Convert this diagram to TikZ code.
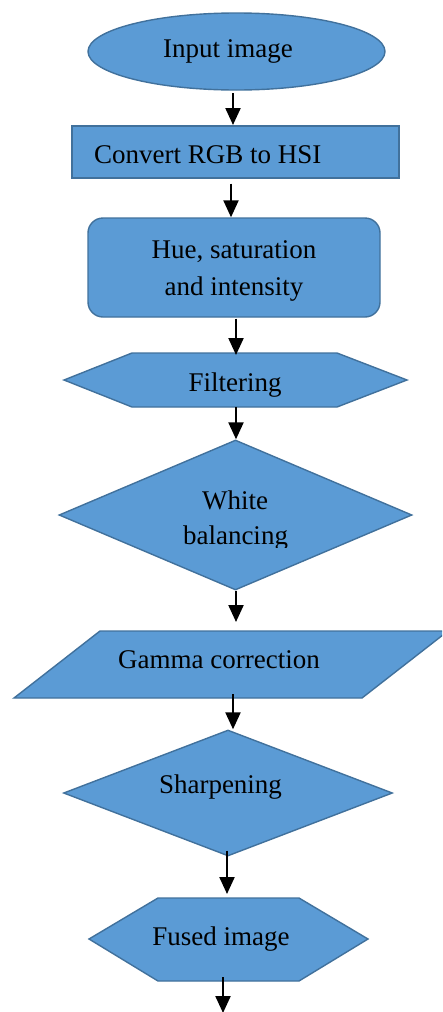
\documentclass[tikz,border=0pt]{standalone}
\usepackage{fontspec}
\setmainfont{Liberation Serif}
\usetikzlibrary{shapes.geometric,arrows.meta}
\definecolor{boxfill}{HTML}{5B9BD5}
\definecolor{boxline}{HTML}{41719C}
\begin{document}
\begin{tikzpicture}[x=1pt,y=-1pt,
  shp/.style={draw=boxline,fill=boxfill,line width=1.4pt,inner sep=0pt},
  lbl/.style={font=\fontsize{27}{36}\selectfont,text=black,inner sep=0pt},
  flow/.style={line width=2.2pt,-{Triangle[width=15pt,length=17pt]}}]
\useasboundingbox (0,0) rectangle (442,1012);
\clip (0,0) rectangle (442,1012);
% shapes
\node[shp,ellipse,minimum width=297pt,minimum height=77pt] (in) at (236.5,51.5) {};
\node[shp,rectangle,minimum width=327pt,minimum height=52pt] (rgb) at (235.5,152) {};
\node[shp,rectangle,rounded corners=15pt,minimum width=292pt,minimum height=99pt] (hsi) at (234,267.5) {};
\draw[shp] (64,380) -- (132,353) -- (337,353) -- (407,380) -- (337,407) -- (132,407) -- cycle;
\coordinate (filtN) at (236,353);
\coordinate (filtS) at (236,407);
\node[shp,diamond,minimum width=353pt,minimum height=150pt] (wb) at (235.5,515) {};
\draw[shp] (14,698) -- (100,631) -- (448,631) -- (362,698) -- cycle;
\coordinate (gamN) at (233,631);
\coordinate (gamS) at (233,698);
\node[shp,diamond,minimum width=329pt,minimum height=126pt] (sharp) at (228,793) {};
\draw[shp] (89,939) -- (158,898) -- (299,898) -- (368,939) -- (299,981) -- (158,981) -- cycle;
\coordinate (fusN) at (227,898);
\coordinate (fusS) at (223,981);
\coordinate (out) at (223,1013);
% labels
\node[lbl,anchor=base] (tin) at (228,57) {Input image};
\node[lbl,anchor=base west] (trgb) at (94,163) {Convert RGB to HSI};
\node[lbl,anchor=base] (thsi1) at (234,258) {Hue, saturation};
\node[lbl,anchor=base] (thsi2) at (234,295) {and intensity};
\node[lbl,anchor=base] (tfilt) at (235,391) {Filtering};
\node[lbl,anchor=base] (twb1) at (235,509) {White};
\begin{scope}
\clip (0,0) rectangle (442,547);
\node[lbl,anchor=base] (twb2) at (235.5,544) {balancing};
\end{scope}
\node[lbl,anchor=base] (tgam) at (219,668) {Gamma correction};
\node[lbl,anchor=base] (tsharp) at (220.5,793) {Sharpening};
\node[lbl,anchor=base] (tfus) at (221,945) {Fused image};
% connectors
\draw[flow] (233,93) -- (233,125);
\draw[flow] ([xshift=-4.5pt,yshift=-5pt]rgb.south) -- ([xshift=-3pt]hsi.north);
\draw[flow] ([xshift=2pt,yshift=-1pt]hsi.south) -- ([yshift=-2pt]filtN);
\draw[flow] (filtS) -- ([xshift=0.5pt]wb.north);
\draw[flow] ([xshift=0.5pt]wb.south) -- (236,622);
\draw[flow] ([yshift=4pt]gamS) -- ([xshift=5pt]sharp.north);
\draw[flow] ([xshift=-1pt,yshift=6pt]sharp.south) -- (227,894);
\draw[flow] ([yshift=4pt]fusS) -- (out);
\end{tikzpicture}
\end{document}
